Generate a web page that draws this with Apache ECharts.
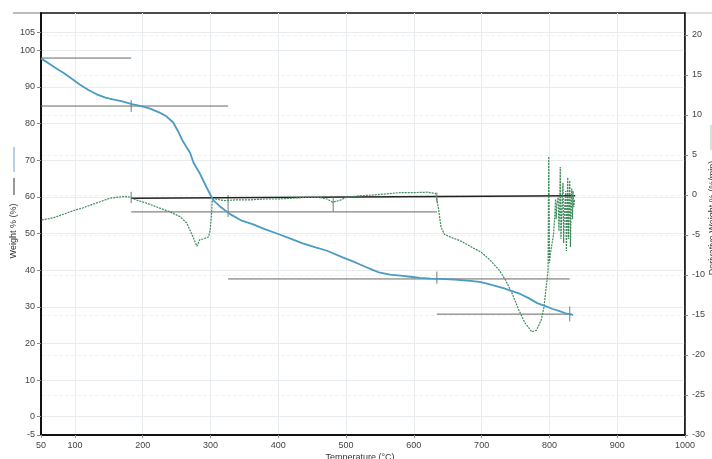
<!DOCTYPE html>
<html>
<head>
<meta charset="utf-8">
<title>TGA</title>
<script src="https://cdn.jsdelivr.net/npm/echarts@6.0.0/dist/echarts.min.js"></script>
<style>
  html, body { margin: 0; padding: 0; background: #fff; }
  #chart { width: 712px; height: 459px; }
</style>
</head>
<body>
<div id="chart"></div>
<script>
// temperature ticks (°C) and axis labels
const tempTicks = [50, 100, 200, 300, 400, 500, 600, 700, 800, 900, 1000];
const weightTicks = [-5, 0, 10, 20, 30, 40, 50, 60, 70, 80, 90, 100, 105];
const derivTicks = [-30, -25, -20, -15, -10, -5, 0, 5, 10, 15, 20];

// weight % curve  [temperature, weight %]
const weightCurve = [
  [50, 97.8], [55, 97.2], [65, 96.0], [75, 94.8], [83, 93.9], [95, 92.3], [107, 90.7],
  [120, 89.2], [132, 88.0], [145, 87.1], [156, 86.6], [170, 86.1], [184, 85.3], [198, 84.8],
  [211, 84.1], [225, 83.0], [235, 82.0], [245, 80.3], [252, 78.0], [258, 75.6], [265, 73.5],
  [270, 72.0], [275, 69.3], [284, 66.5], [294, 62.7], [304, 59.1], [314, 57.4], [329, 55.3],
  [345, 53.6], [363, 52.5], [380, 51.2], [398, 50.0], [418, 48.6], [436, 47.3], [455, 46.2],
  [472, 45.3], [495, 43.5], [510, 42.4], [525, 41.2], [540, 40.0], [550, 39.3], [565, 38.8],
  [580, 38.5], [595, 38.2], [609, 37.9], [625, 37.7], [639, 37.6], [660, 37.4], [683, 37.1],
  [697, 36.8], [708, 36.3], [720, 35.7], [732, 35.1], [745, 34.3], [757, 33.5], [770, 32.3],
  [782, 31.0], [795, 30.1], [805, 29.4], [815, 28.8], [826, 28.1], [835, 27.8]
];

// derivative weight curve  [temperature, %/min]
const derivCurve = [
  [51, -3.1], [60, -3.0], [70, -2.8], [88, -2.25], [100, -1.9], [112, -1.6], [125, -1.2],
  [137, -0.85], [152, -0.4], [171, -0.2], [181, -0.25], [190, -0.6], [205, -1.0], [221, -1.5],
  [240, -2.1], [255, -2.7], [265, -3.5], [272, -4.8], [277, -5.8], [280, -6.4], [284, -5.6],
  [289, -5.5], [297, -5.25], [299.5, -4.4], [301.5, -2.5], [302.5, -0.6], [307, -0.5],
  [320, -0.7], [340, -0.6], [360, -0.6], [380, -0.5], [400, -0.5], [420, -0.4], [440, -0.3],
  [460, -0.3], [472, -0.5], [480, -0.9], [490, -0.7], [500, -0.3], [520, -0.1], [540, 0.0],
  [560, 0.15], [580, 0.3], [600, 0.3], [620, 0.35], [632, 0.2], [636, -1.5], [640, -4.0],
  [645, -4.9], [655, -5.3], [668, -5.7], [683, -6.4], [700, -7.2], [712, -8.1], [726, -9.4],
  [735, -10.6], [745, -12.3], [755, -14.4], [764, -16.0], [774, -17.1], [781, -16.9],
  [788, -15.6], [792, -14.0], [796, -11.0], [798, -9.4], [799, 4.8], [800, -8.5], [802, -7.0],
  [804, -6.9], [806, -5.0], [808, -2.5], [809, -0.5], [810, -3.0], [811, -1.0], [813, -0.3],
  [814, -4.5], [815, -2.0], [816, 3.5], [817, -5.5], [818, -3.0], [819, -0.5], [820, 1.5],
  [821, -6.0], [822, -2.5], [823, -1.0], [824, 0.5], [825, -7.0], [826, -3.0], [827, 2.2],
  [828, -5.5], [829, -1.5], [830, 1.8], [831, -6.5], [832, -1.0], [833, 0.8], [834, -3.0],
  [835, 0.5], [836, -1.5], [837, -0.5]
];

// step analysis lines on weight axis
const stepLines = [
  [[50, 97.9], [183, 97.9]],
  [[50, 84.8], [326, 84.8]],
  [[183, 55.9], [634, 55.9]],
  [[326, 37.6], [830, 37.6]],
  [[634, 28.0], [833, 28.0]]
];
const stepMarks = [
  [[183, 86.4], [183, 83.2]],
  [[326, 60.5], [326, 54.5]],
  [[634, 39.6], [634, 36.3]],
  [[830, 30.1], [830, 26.0]]
];
// baseline on derivative axis
const baseLine = [[183, -0.4], [838, -0.1]];
const baseMarks = [
  [[183, 0.4], [183, -1.0]],
  [[481, -0.3], [481, -2.1]],
  [[634, 0.3], [634, -0.9]]
];

const chart = echarts.init(document.getElementById('chart'), null, { renderer: 'canvas' });

const fontFamily = 'Liberation Sans, Arial, sans-serif';
const labelFont = { color: '#444', fontSize: 9, fontFamily: fontFamily };

function segment(data, yIdx, color, width) {
  return {
    type: 'line',
    yAxisIndex: yIdx,
    data: data,
    symbol: 'none',
    silent: true,
    lineStyle: { color: color, width: width },
    z: 3
  };
}

const series = [];
stepLines.forEach(s => series.push(segment(s, 0, '#666', 1)));
stepMarks.forEach(s => series.push(segment(s, 0, '#777', 1)));
series.push(segment(baseLine, 1, '#222', 1.5));
baseMarks.forEach(s => series.push(segment(s, 1, '#777', 1)));
series.push({
  type: 'line',
  yAxisIndex: 1,
  data: derivCurve,
  symbol: 'none',
  lineStyle: { color: '#3f8a5c', width: 1.2, type: [2, 1] },
  z: 4
});
series.push({
  type: 'line',
  yAxisIndex: 0,
  data: weightCurve,
  symbol: 'none',
  lineStyle: { color: '#4a9cc2', width: 1.8 },
  z: 5
});

const option = {
  animation: false,
  backgroundColor: '#fff',
  grid: {
    left: 41, right: 27, top: 13, bottom: 24,
    containLabel: false,
    outerBoundsMode: 'none',
    show: true,
    borderColor: '#111',
    borderWidth: 1.5
  },
  xAxis: {
    type: 'value',
    min: 50,
    max: 1000,
    axisLine: { show: true, onZero: false, lineStyle: { color: '#111', width: 2 } },
    axisTick: { show: true, length: 3, customValues: tempTicks, lineStyle: { color: '#999' } },
    axisLabel: Object.assign({ customValues: tempTicks, margin: 6, formatter: v => String(v) }, labelFont),
    splitLine: { show: true, lineStyle: { color: '#e8ecef', width: 1 } }
  },
  yAxis: [
    {
      type: 'value',
      min: -5,
      max: 110.2,
      position: 'left',
      axisLine: { show: true, onZero: false, lineStyle: { color: '#111', width: 2 } },
      axisTick: { show: true, length: 4, customValues: weightTicks, lineStyle: { color: '#888' } },
      axisLabel: Object.assign({ customValues: weightTicks, margin: 6 }, labelFont),
      splitLine: { show: true, lineStyle: { color: '#e8ecef', width: 1 } }
    },
    {
      type: 'value',
      min: -30,
      max: 22.75,
      position: 'right',
      axisLine: { show: true, onZero: false, lineStyle: { color: '#111', width: 1.5 } },
      axisTick: { show: true, length: 3, customValues: derivTicks, lineStyle: { color: '#888' } },
      axisLabel: Object.assign({ customValues: derivTicks, margin: 7 }, labelFont),
      splitLine: { show: true, lineStyle: { color: '#f0f2f4', width: 1, type: 'dashed' } }
    }
  ],
  graphic: [
    // top border runs past the plot frame
    { type: 'line', shape: { x1: 13, y1: 13, x2: 41, y2: 13 }, style: { stroke: '#777', lineWidth: 1 } },
    { type: 'line', shape: { x1: 685, y1: 13, x2: 712, y2: 13 }, style: { stroke: '#bbb', lineWidth: 1 } },
    // left axis title with series keys
    { type: 'line', shape: { x1: 14, y1: 147, x2: 14, y2: 172 }, style: { stroke: '#9cc3d6', lineWidth: 1.5 } },
    { type: 'line', shape: { x1: 14, y1: 178, x2: 14, y2: 195 }, style: { stroke: '#333', lineWidth: 1 } },
    {
      type: 'text', x: 14, y: 231, rotation: Math.PI / 2,
      style: { text: 'Weight % (%)', fill: '#333', fontSize: 9, fontFamily: fontFamily, align: 'center', verticalAlign: 'middle' }
    },
    // right axis title (cut off by the page edge)
    { type: 'line', shape: { x1: 711, y1: 125, x2: 711, y2: 150 }, style: { stroke: '#a9c7b3', lineWidth: 1 } },
    {
      type: 'text', x: 713, y: 218, rotation: Math.PI / 2,
      style: { text: 'Derivative Weight % (%/min)', fill: '#333', fontSize: 9, fontFamily: fontFamily, align: 'center', verticalAlign: 'middle' }
    },
    // x axis title
    {
      type: 'text', x: 360, y: 453,
      style: { text: 'Temperature (°C)', fill: '#333', fontSize: 9, fontFamily: fontFamily, align: 'center', verticalAlign: 'top' }
    }
  ],
  series: series
};

chart.setOption(option);
</script>
</body>
</html>
